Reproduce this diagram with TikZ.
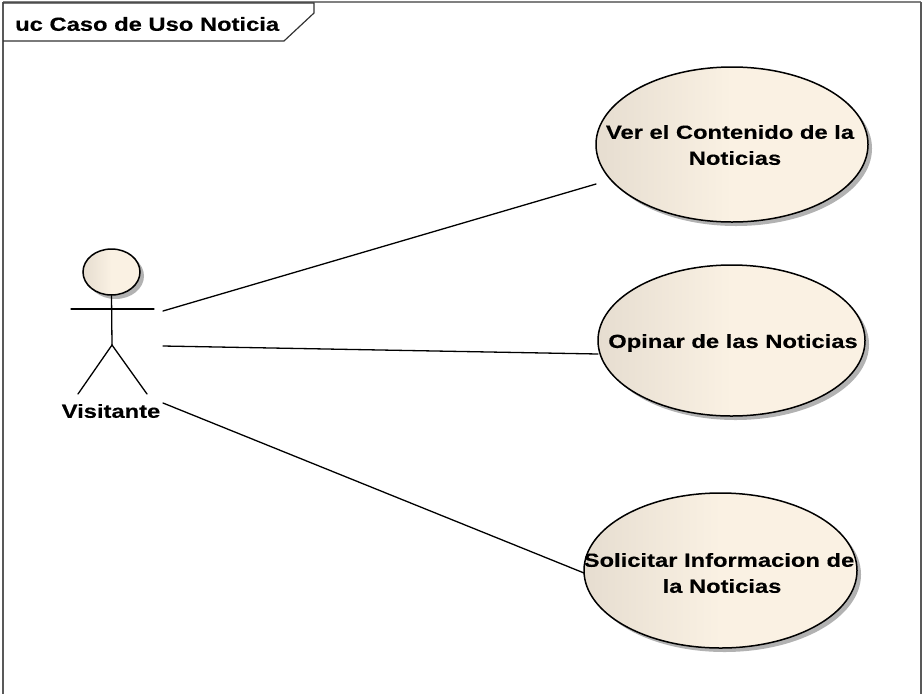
\documentclass[tikz,border=0pt]{standalone}
\usepackage{fontspec}
\setmainfont{Liberation Sans}[FakeStretch=1.25,BoldFeatures={FakeStretch=1.25,FakeBold=0.3}]
\usetikzlibrary{shapes.geometric,shadows}
\definecolor{ucfill}{HTML}{FAF1E3}
\definecolor{ucshade}{HTML}{E6DDD0}
\tikzset{
  usecase/.style={ellipse,draw,line width=1.5pt,inner sep=0pt,
    left color=ucshade,right color=ucfill,middle color=ucfill,
    drop shadow={shadow xshift=4pt,shadow yshift=-4pt,fill=black!30,opacity=1}},
  lbl/.style={font=\fontsize{19}{26}\selectfont\bfseries,inner sep=0pt,align=center},
  ln/.style={line width=1.3pt,line cap=round}
}
\begin{document}
\begin{tikzpicture}[x=1pt,y=-1pt]
  \useasboundingbox (0,0) rectangle (923,694);
  % frame
  \draw[line width=2.5pt,black!65] (3,2) -- (3,694);
  \draw[line width=2pt,black!50] (3,2) -- (921,2);
  \draw[line width=2.5pt,black!65] (921,2) -- (921,694);
  \draw[line width=1.2pt,black!80] (3,41) -- (284,41) -- (314,13) -- (314,3) -- (3,3);
  \node[lbl,anchor=west] (frametitle) at (15,24) {uc Caso de Uso Noticia};
  % actor
  \node[usecase,minimum width=57pt,minimum height=46pt] (head) at (111.5,272) {};
  \coordinate (neck) at (112,345);
  \coordinate (armL) at (71,309);
  \coordinate (armR) at (154,309);
  \coordinate (footL) at (78,394);
  \coordinate (footR) at (147,394);
  \draw[ln] (head.south) -- (neck);
  \draw[ln] (armL) -- (armR);
  \draw[ln] (footL) -- (neck) -- (footR);
  \node[lbl] (actor) at (111,411) {Visitante};
  % use cases
  \node[usecase,minimum width=272pt,minimum height=155pt] (ver) at (732,144.5) {};
  \node[usecase,minimum width=267pt,minimum height=151pt] (opinar) at (731.5,340.5) {};
  \node[usecase,minimum width=273pt,minimum height=155pt] (solicitar) at (720.5,570.5) {};
  \node[lbl] (verlbl) at (730,145) {Ver el Contenido de la\\\hspace*{10pt}Noticias};
  \node[lbl] (opinarlbl) at (733,343) {Opinar de las Noticias};
  \node[lbl] (solicitarlbl) at (719,573) {Solicitar Informacion de\\\hspace*{6pt}la Noticias};
  % connectors
  \coordinate (outA) at (163,311);
  \coordinate (outB) at (163,346);
  \coordinate (outC) at (163,403);
  \coordinate (inA) at (596,184);
  \coordinate (inB) at (598,354);
  \coordinate (inC) at (584,573);
  \draw[ln] (outA) -- (inA);
  \draw[ln] (outB) -- (inB);
  \draw[ln] (outC) -- (inC);
\end{tikzpicture}
\end{document}
